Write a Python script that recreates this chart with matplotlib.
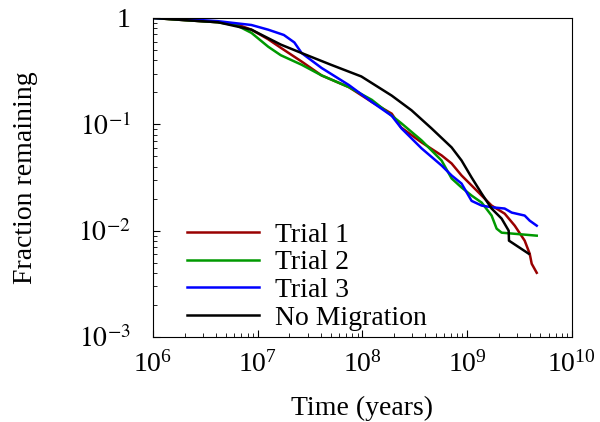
import math
import matplotlib
matplotlib.use("Agg")
from matplotlib import pyplot as plt
from matplotlib.ticker import FuncFormatter

plt.rcParams['font.family'] = ['Liberation Serif', 'DejaVu Serif']
plt.rcParams['mathtext.fontset'] = 'stix'

# log10(time), log10(fraction)
t1_x = [6.0, 6.3, 6.62, 6.8, 6.94, 7.1, 7.22, 7.42, 7.61, 7.87, 8.09, 8.28, 8.37, 8.565, 8.756, 8.852,
        8.947, 9.043, 9.139, 9.234, 9.359, 9.455, 9.55, 9.598, 9.617, 9.665]
t1_y = [0.0, -0.02, -0.04, -0.06, -0.11, -0.2, -0.28, -0.41, -0.54, -0.65, -0.79, -0.9, -1.03, -1.17, -1.292, -1.368,
        -1.481, -1.575, -1.67, -1.764, -1.84, -1.953, -2.094, -2.217, -2.311, -2.396]

t2_x = [6.0, 6.3, 6.62, 6.8, 6.94, 7.1, 7.22, 7.42, 7.61, 7.87, 8.09, 8.373, 8.565, 8.756, 8.852, 8.947,
        9.043, 9.139, 9.234, 9.282, 9.33, 9.665]
t2_y = [0.0, -0.02, -0.04, -0.07, -0.14, -0.27, -0.35, -0.44, -0.54, -0.65, -0.77, -0.991, -1.151, -1.34, -1.509, -1.594,
        -1.67, -1.736, -1.858, -1.981, -2.019, -2.047]

t3_x = [6.0, 6.3, 6.62, 6.94, 7.1, 7.25, 7.35, 7.42, 7.61, 7.87, 8.09, 8.28, 8.373, 8.565, 8.756, 8.852,
        8.947, 9.043, 9.139, 9.234, 9.359, 9.426, 9.55, 9.598, 9.665]
t3_y = [0.0, -0.01, -0.03, -0.066, -0.11, -0.16, -0.23, -0.33, -0.47, -0.63, -0.79, -0.92, -1.038, -1.226, -1.387, -1.481,
        -1.557, -1.72, -1.764, -1.78, -1.792, -1.83, -1.858, -1.906, -1.953]

nm_x = [6.0, 6.3, 6.62, 6.94, 7.22, 7.42, 7.7, 7.99, 8.28, 8.469, 8.66, 8.852, 8.947, 9.043, 9.139, 9.234,
        9.33, 9.397, 9.40, 9.589]
nm_y = [0.0, -0.02, -0.04, -0.11, -0.25, -0.33, -0.44, -0.55, -0.73, -0.868, -1.038, -1.217, -1.34, -1.5, -1.651, -1.792,
        -1.887, -2.0, -2.094, -2.217]

series = [
    (t1_x, t1_y, '#990000', 'Trial 1'),
    (t2_x, t2_y, '#009900', 'Trial 2'),
    (t3_x, t3_y, '#0000ff', 'Trial 3'),
    (nm_x, nm_y, 'black', 'No Migration'),
]

fig = plt.figure(figsize=(6, 4.22), dpi=100)
ax = fig.add_axes([0.255, 0.2014, 0.698, 0.756])

for xs, ys, c, lab in series:
    ax.plot([10 ** v for v in xs], [10 ** v for v in ys], color=c, lw=1.8, label=lab)

ax.set_xscale('log')
ax.set_yscale('log')
ax.set_xlim(1e6, 1e10)
ax.set_ylim(1e-3, 1)

def yfmt(v, pos):
    if abs(v - 1) < 1e-9:
        return '1'
    return r'$10^{%d}$' % round(math.log10(v))

ax.yaxis.set_major_formatter(FuncFormatter(yfmt))
ax.tick_params(which='both', direction='in', top=False, right=False, labelsize=20)
ax.tick_params(which='major', length=5)
ax.tick_params(which='minor', length=3)
ax.tick_params(axis='x', pad=10)
ax.tick_params(axis='y', pad=16)
ax.set_xlabel('Time (years)', fontsize=20, va='top')
ax.set_ylabel('Fraction remaining', fontsize=20, va='center')
ax.xaxis.set_label_coords(0.5, -0.185)
ax.yaxis.set_label_coords(-0.305, 0.5)

ax.legend(loc='lower left', frameon=False, fontsize=20, handlelength=2.6, handletextpad=0.6,
          labelspacing=0.08, borderaxespad=0.0, borderpad=0.0, bbox_to_anchor=(0.08, 0.02))

fig.savefig('out.png', dpi=100)
